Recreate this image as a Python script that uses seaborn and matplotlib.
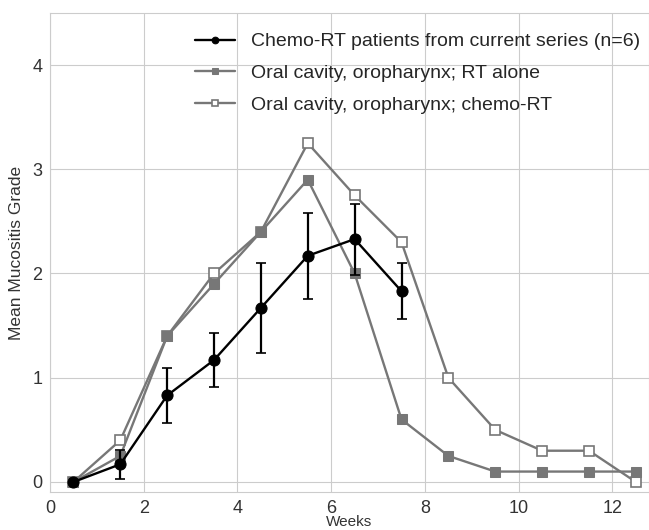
import numpy as np
import pandas as pd
import matplotlib
matplotlib.use("Agg")
import matplotlib.pyplot as plt
import seaborn as sns

# data
weeks_current = [0.5, 1.5, 2.5, 3.5, 4.5, 5.5, 6.5, 7.5]
grade_current = [0.0, 0.17, 0.83, 1.17, 1.67, 2.17, 2.33, 1.83]
err_current = [0.0, 0.14, 0.26, 0.26, 0.43, 0.41, 0.34, 0.27]

weeks_ref = [0.5, 1.5, 2.5, 3.5, 4.5, 5.5, 6.5, 7.5, 8.5, 9.5, 10.5, 11.5, 12.5]
grade_rt_alone = [0.0, 0.25, 1.4, 1.9, 2.4, 2.9, 2.0, 0.6, 0.25, 0.1, 0.1, 0.1, 0.1]
grade_chemo_rt = [0.0, 0.4, 1.4, 2.0, 2.4, 3.25, 2.75, 2.3, 1.0, 0.5, 0.3, 0.3, 0.0]

labels = ["Chemo-RT patients from current series (n=6)",
          "Oral cavity, oropharynx; RT alone",
          "Oral cavity, oropharynx; chemo-RT"]

sns.set_style("whitegrid")
plt.rcParams['font.family'] = ['Liberation Sans', 'DejaVu Sans']

fig = plt.figure(figsize=(6.49, 5.30), dpi=100)
ax = fig.add_axes([0.077, 0.0717, 0.923, 0.904])

gray = "#777777"

df_cur = pd.DataFrame({'week': weeks_current, 'grade': grade_current})
df_rt = pd.DataFrame({'week': weeks_ref, 'grade': grade_rt_alone})
df_crt = pd.DataFrame({'week': weeks_ref, 'grade': grade_chemo_rt})

sns.lineplot(data=df_crt, x='week', y='grade', ax=ax, color=gray, lw=1.7,
             marker='s', markersize=7, markerfacecolor='white',
             markeredgecolor=gray, markeredgewidth=1.2, label=labels[2], zorder=3)
sns.lineplot(data=df_rt, x='week', y='grade', ax=ax, color=gray, lw=1.7,
             marker='s', markersize=7, markerfacecolor=gray,
             markeredgecolor=gray, label=labels[1], zorder=3)
ax.errorbar(weeks_current, grade_current, yerr=err_current, fmt='none',
            ecolor='black', elinewidth=1.6, capsize=3.5, capthick=1.2, zorder=4)
sns.lineplot(data=df_cur, x='week', y='grade', ax=ax, color='black', lw=1.7,
             marker='o', markersize=8, markerfacecolor='black',
             markeredgecolor='black', label=labels[0], zorder=5)

ax.set_xlim(0, 12.78)
ax.set_ylim(-0.096, 4.5)
ax.set_xticks([0, 2, 4, 6, 8, 10, 12])
ax.set_yticks([0, 1, 2, 3, 4])
ax.tick_params(labelsize=13, colors='#333333', pad=2)
ax.set_xlabel("Weeks", fontsize=11, color='#333333', labelpad=-1)
ax.set_ylabel("Mean Mucositis Grade", fontsize=12.5, color='#333333', labelpad=6)
for s in ax.spines.values():
    s.set_color('#cccccc')

h, l = ax.get_legend_handles_labels()
order = [l.index(t) for t in labels]
ax.legend([h[i] for i in order], [l[i] for i in order], loc='upper right',
          bbox_to_anchor=(1.008, 0.987), frameon=False, fontsize=14,
          handlelength=2.05, handletextpad=0.85, labelspacing=0.72,
          markerscale=0.6, borderaxespad=0.3)

fig.savefig("out.png", dpi=100)
